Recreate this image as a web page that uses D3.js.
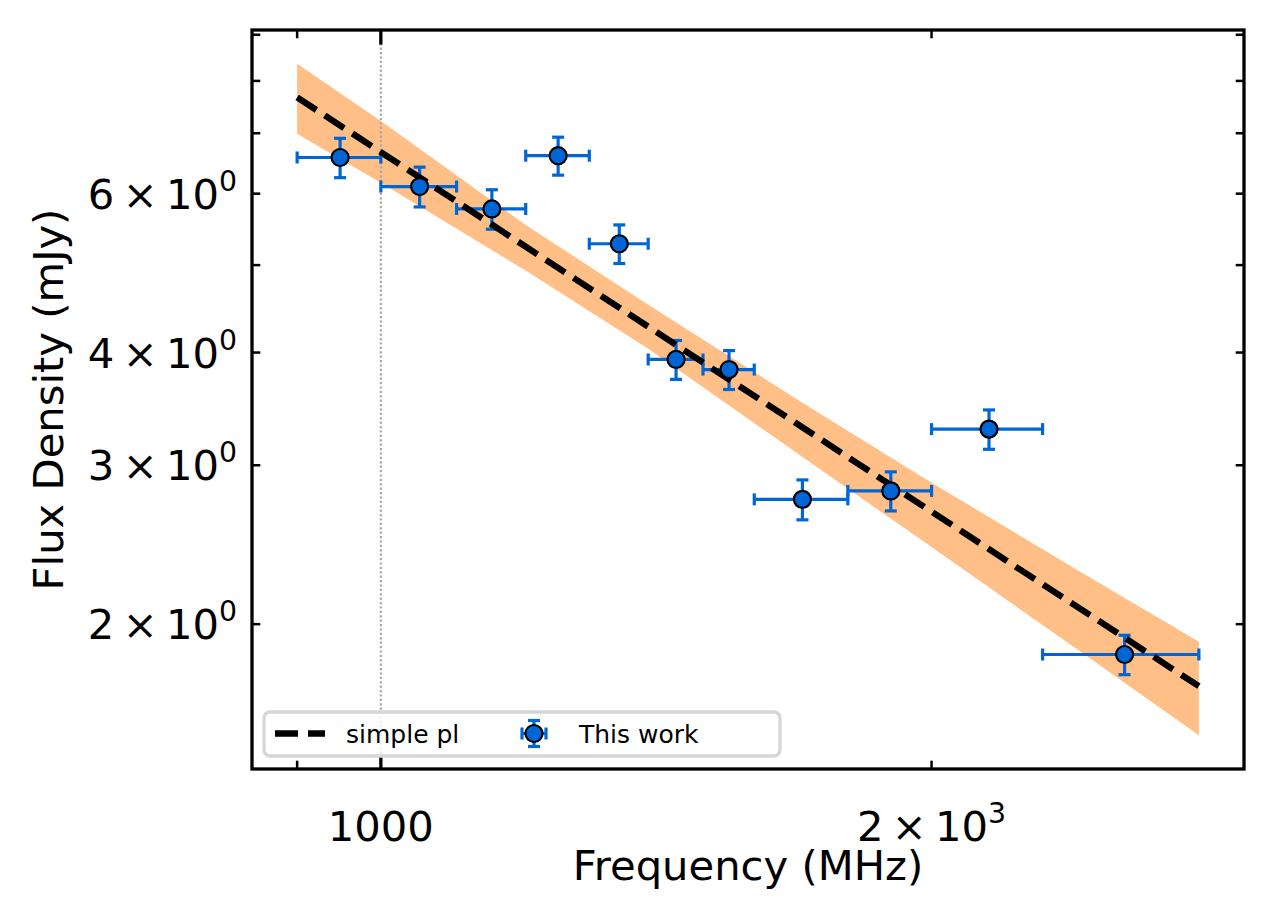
<!DOCTYPE html>
<html>
<head>
<meta charset="utf-8">
<script src="https://cdn.jsdelivr.net/npm/d3@7"></script>
<style>
  html, body { margin: 0; padding: 0; background: #fff; }
  svg text { font-family: "DejaVu Sans", sans-serif; fill: #000; }
</style>
</head>
<body>
<svg id="chart" width="1274" height="914"></svg>
<script>
// ---- data ----
const freq     = [950, 1050, 1150, 1250, 1350, 1450, 1550, 1700, 1900, 2150, 2550];
const freqErr  = [50, 50, 50, 50, 50, 50, 50, 100, 100, 150, 250];
const flux     = [6.58, 6.11, 5.77, 6.61, 5.28, 3.93, 3.83, 2.75, 2.81, 3.29, 1.851];
const fluxErr  = [0.33, 0.31, 0.29, 0.32, 0.26, 0.195, 0.19, 0.14, 0.14, 0.165, 0.093];

const fitFreq  = [900, 2800];
const fitFlux  = [7.67, 1.707];

const bandFreq = [900, 1000, 1200, 1400, 1700, 2000, 2400, 2800];
const bandHigh = [8.36, 7.22, 5.54, 4.52, 3.52, 2.87, 2.30, 1.912];
const bandLow  = [6.99, 6.17, 4.93, 4.04, 3.064, 2.435, 1.878, 1.506];

const xMajorTicks = [1000];
const xMinorTicks = [900, 2000];
const xTickLabels = [{v: 1000, m: "1000", e: null}, {v: 2000, m: "2\u2009\u00d7\u200910", e: "3"}];
const yMinorTicks = [2, 3, 4, 5, 6, 7, 8, 9];
const yTickLabels = [{v: 2, m: "2\u2009\u00d7\u200910", e: "0"}, {v: 3, m: "3\u2009\u00d7\u200910", e: "0"},
                     {v: 4, m: "4\u2009\u00d7\u200910", e: "0"}, {v: 6, m: "6\u2009\u00d7\u200910", e: "0"}];
const refLine = 1000;

// ---- layout ----
const L = 252, T = 30, R = 1244, B = 769;
const blue = "#0066d6";
const svg = d3.select("#chart");

const x = d3.scaleLog().domain([850.3, 2963.6]).range([L, R]);
const y = d3.scaleLog().domain([1.382, 9.11]).range([B, T]);

// band
const bandData = bandFreq.map((f, i) => ({f, lo: bandLow[i], hi: bandHigh[i]}));
svg.append("path")
  .datum(bandData)
  .attr("fill", "#ffbf86")
  .attr("d", d3.area().x(d => x(d.f)).y0(d => y(d.lo)).y1(d => y(d.hi)));

// vertical dotted reference line
svg.append("line")
  .attr("x1", x(refLine)).attr("x2", x(refLine))
  .attr("y1", T).attr("y2", B)
  .attr("stroke", "#a8a8a8").attr("stroke-width", 2.2)
  .attr("stroke-dasharray", "2.2,2.2");

// error bars
const pts = freq.map((f, i) => ({f, fe: freqErr[i], s: flux[i], se: fluxErr[i]}));
const eb = svg.append("g").attr("stroke", blue).attr("stroke-width", 3.2).attr("fill", "none");
const cap = 6;
pts.forEach(p => {
  const cx = x(p.f), cy = y(p.s);
  const x0 = x(p.f - p.fe), x1 = x(p.f + p.fe);
  const y0 = y(p.s - p.se), y1 = y(p.s + p.se);
  eb.append("line").attr("x1", x0).attr("x2", x1).attr("y1", cy).attr("y2", cy);
  eb.append("line").attr("x1", cx).attr("x2", cx).attr("y1", y0).attr("y2", y1);
  eb.append("line").attr("x1", x0).attr("x2", x0).attr("y1", cy - cap).attr("y2", cy + cap);
  eb.append("line").attr("x1", x1).attr("x2", x1).attr("y1", cy - cap).attr("y2", cy + cap);
  eb.append("line").attr("x1", cx - cap).attr("x2", cx + cap).attr("y1", y0).attr("y2", y0);
  eb.append("line").attr("x1", cx - cap).attr("x2", cx + cap).attr("y1", y1).attr("y2", y1);
});

// fit line
const fitData = fitFreq.map((f, i) => ({f, s: fitFlux[i]}));
svg.append("path")
  .datum(fitData)
  .attr("fill", "none").attr("stroke", "#000").attr("stroke-width", 6.3)
  .attr("stroke-dasharray", "23,10")
  .attr("d", d3.line().x(d => x(d.f)).y(d => y(d.s)));

// markers
svg.append("g").selectAll("circle").data(pts).join("circle")
  .attr("cx", d => x(d.f)).attr("cy", d => y(d.s)).attr("r", 8.5)
  .attr("fill", blue).attr("stroke", "#000").attr("stroke-width", 2.2);

// ticks (inward, all four sides)
const tk = svg.append("g").attr("stroke", "#000");
xMajorTicks.forEach(v => {
  tk.append("line").attr("x1", x(v)).attr("x2", x(v)).attr("y1", B).attr("y2", B - 14.6).attr("stroke-width", 3.3);
  tk.append("line").attr("x1", x(v)).attr("x2", x(v)).attr("y1", T).attr("y2", T + 14.6).attr("stroke-width", 3.3);
});
xMinorTicks.forEach(v => {
  tk.append("line").attr("x1", x(v)).attr("x2", x(v)).attr("y1", B).attr("y2", B - 8.3).attr("stroke-width", 2.5);
  tk.append("line").attr("x1", x(v)).attr("x2", x(v)).attr("y1", T).attr("y2", T + 8.3).attr("stroke-width", 2.5);
});
yMinorTicks.forEach(v => {
  tk.append("line").attr("x1", L).attr("x2", L + 8.3).attr("y1", y(v)).attr("y2", y(v)).attr("stroke-width", 2.5);
  tk.append("line").attr("x1", R).attr("x2", R - 8.3).attr("y1", y(v)).attr("y2", y(v)).attr("stroke-width", 2.5);
});

// frame
svg.append("rect").attr("x", L).attr("y", T).attr("width", R - L).attr("height", B - T)
  .attr("fill", "none").attr("stroke", "#000").attr("stroke-width", 3.3);

// tick labels
function mathLabel(g, d, fs) {
  const t = g.append("text").attr("font-size", fs);
  t.append("tspan").text(d.m);
  if (d.e) t.append("tspan").attr("font-size", fs * 0.68).attr("dy", -18).text(d.e);
  return t;
}
const xl = svg.append("g");
xTickLabels.forEach(d => {
  const t = mathLabel(xl, d, 41.7);
  t.attr("x", x(d.v)).attr("y", 841).attr("text-anchor", "middle");
});
const yl = svg.append("g");
yTickLabels.forEach(d => {
  const t = mathLabel(yl, d, 41.7);
  t.attr("x", 237).attr("y", y(d.v) + 15).attr("text-anchor", "end");
});

// axis labels
svg.append("text").attr("x", (L + R) / 2).attr("y", 880).attr("text-anchor", "middle")
  .attr("font-size", 41.7).text("Frequency (MHz)");
svg.append("text").attr("transform", `translate(63,${(T + B) / 2}) rotate(-90)`)
  .attr("text-anchor", "middle").attr("font-size", 41.7).text("Flux Density (mJy)");

// legend
const lg = svg.append("g");
lg.append("rect").attr("x", 264).attr("y", 712).attr("width", 516).attr("height", 44).attr("rx", 6)
  .attr("fill", "#fff").attr("fill-opacity", 0.8).attr("stroke", "#d6d6d6").attr("stroke-width", 3.3);
lg.append("line").attr("x1", 275).attr("x2", 325).attr("y1", 733.5).attr("y2", 733.5)
  .attr("stroke", "#000").attr("stroke-width", 6.3).attr("stroke-dasharray", "23,10");
lg.append("text").attr("x", 346).attr("y", 742.5).attr("font-size", 25).text("simple pl");
const lm = lg.append("g").attr("stroke", blue).attr("stroke-width", 3.2);
const mx = 534, my = 733.5;
lm.append("line").attr("x1", mx - 12).attr("x2", mx + 12).attr("y1", my).attr("y2", my);
lm.append("line").attr("x1", mx).attr("x2", mx).attr("y1", my - 13).attr("y2", my + 13);
lm.append("line").attr("x1", mx - 12).attr("x2", mx - 12).attr("y1", my - 6).attr("y2", my + 6);
lm.append("line").attr("x1", mx + 12).attr("x2", mx + 12).attr("y1", my - 6).attr("y2", my + 6);
lm.append("line").attr("x1", mx - 6).attr("x2", mx + 6).attr("y1", my - 13).attr("y2", my - 13);
lm.append("line").attr("x1", mx - 6).attr("x2", mx + 6).attr("y1", my + 13).attr("y2", my + 13);
lg.append("circle").attr("cx", mx).attr("cy", my).attr("r", 8.5)
  .attr("fill", blue).attr("stroke", "#000").attr("stroke-width", 2.2);
lg.append("text").attr("x", 579).attr("y", 742.5).attr("font-size", 25).text("This work");
</script>
</body>
</html>
